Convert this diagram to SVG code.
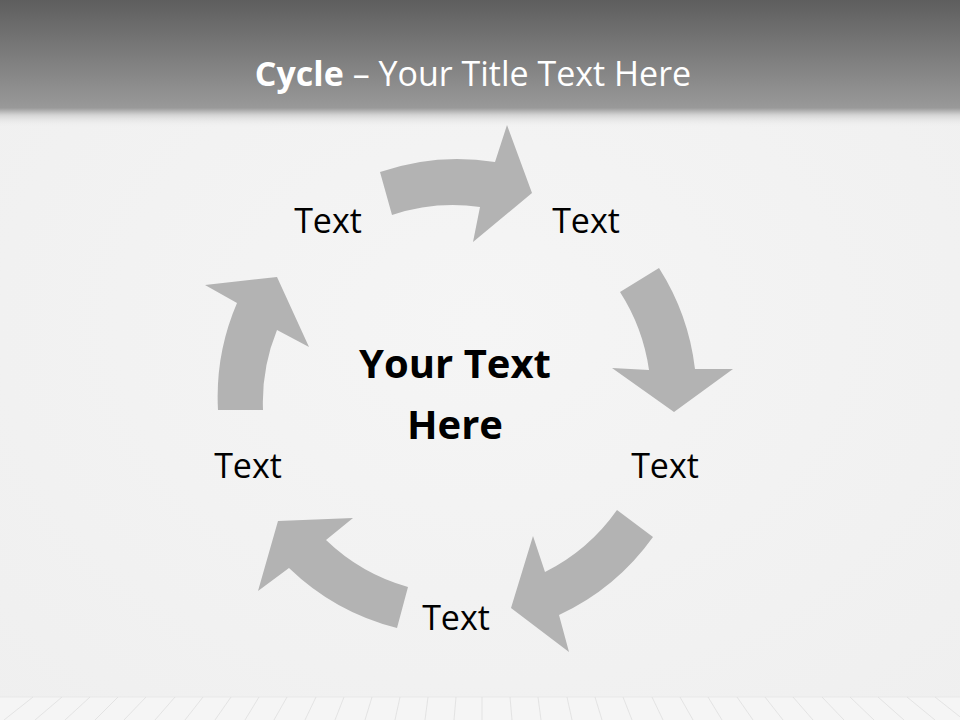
<svg xmlns="http://www.w3.org/2000/svg" width="960" height="720" viewBox="0 0 960 720">
<style>
.lbl{font-family:"Open Sans","Noto Sans","Liberation Sans",sans-serif;font-size:34px;fill:#000;text-anchor:middle}
.ctr{font-family:"Open Sans","Noto Sans","Liberation Sans",sans-serif;font-size:40px;font-weight:bold;fill:#000;text-anchor:middle}
.ttl{font-family:"Open Sans","Noto Sans","Liberation Sans",sans-serif;font-size:34px;fill:#fff;text-anchor:middle}
.arrow{fill:#b3b3b3}
.floor line{stroke:#dedede;stroke-width:0.8}
</style>
<defs>
<linearGradient id="hdr" x1="0" y1="0" x2="0" y2="1">
<stop offset="0" stop-color="#5e5e5e"/>
<stop offset="1" stop-color="#999999"/>
</linearGradient>
<linearGradient id="fade" x1="0" y1="0" x2="0" y2="1">
<stop offset="0" stop-color="#9a9a9a"/>
<stop offset="0.35" stop-color="#d4d4d4"/>
<stop offset="1" stop-color="#f3f3f3" stop-opacity="0"/>
</linearGradient>
<radialGradient id="wall" cx="0.5" cy="0.45" r="0.75">
<stop offset="0" stop-color="#f5f5f5"/>
<stop offset="1" stop-color="#efefef"/>
</radialGradient>
</defs>
<rect x="0" y="0" width="960" height="720" fill="url(#wall)"/>
<rect x="0" y="697" width="960" height="23" fill="#f5f5f5"/>
<g class="floor">
<line x1="0" y1="697" x2="960" y2="697" style="stroke:#e6e6e6"/>
<line x1="33" y1="697" x2="4" y2="720"/>
<line x1="62" y1="697" x2="35" y2="720"/>
<line x1="90" y1="697" x2="65" y2="720"/>
<line x1="118" y1="697" x2="95" y2="720"/>
<line x1="146" y1="697" x2="124" y2="720"/>
<line x1="175" y1="697" x2="155" y2="720"/>
<line x1="203" y1="697" x2="185" y2="720"/>
<line x1="231" y1="697" x2="215" y2="720"/>
<line x1="259" y1="697" x2="245" y2="720"/>
<line x1="287" y1="697" x2="274" y2="720"/>
<line x1="316" y1="697" x2="305" y2="720"/>
<line x1="344" y1="697" x2="335" y2="720"/>
<line x1="372" y1="697" x2="365" y2="720"/>
<line x1="400" y1="697" x2="395" y2="720"/>
<line x1="428" y1="697" x2="425" y2="720"/>
<line x1="456" y1="697" x2="454" y2="720"/>
<line x1="482" y1="697" x2="482" y2="720"/>
<line x1="510" y1="697" x2="512" y2="720"/>
<line x1="538" y1="697" x2="541" y2="720"/>
<line x1="567" y1="697" x2="572" y2="720"/>
<line x1="595" y1="697" x2="602" y2="720"/>
<line x1="623" y1="697" x2="632" y2="720"/>
<line x1="652" y1="697" x2="663" y2="720"/>
<line x1="680" y1="697" x2="693" y2="720"/>
<line x1="708" y1="697" x2="722" y2="720"/>
<line x1="737" y1="697" x2="753" y2="720"/>
<line x1="765" y1="697" x2="783" y2="720"/>
<line x1="793" y1="697" x2="813" y2="720"/>
<line x1="822" y1="697" x2="844" y2="720"/>
<line x1="850" y1="697" x2="874" y2="720"/>
<line x1="878" y1="697" x2="904" y2="720"/>
<line x1="907" y1="697" x2="935" y2="720"/>
<line x1="935" y1="697" x2="964" y2="720"/>
</g>
<rect x="0" y="0" width="960" height="108" fill="url(#hdr)"/>
<rect x="0" y="108" width="960" height="20" fill="url(#fade)"/>
<g id="title">
<text class="ttl" x="473" y="86"><tspan font-weight="bold">Cycle</tspan> – Your Title Text Here</text>
</g>
<g id="connectors">
<path class="arrow" d="M 380,172 A 238,238 0 0 1 495,162 L 507,125 L 532,193 L 473,242 L 480,207 A 193,193 0 0 0 392,215 Z"/>
<path class="arrow" d="M 659,268 A 240,240 0 0 1 695,369 L 733,369 L 674,412 L 612,368 L 649,370 A 195,195 0 0 0 620,292 Z"/>
<path class="arrow" d="M 653,537 A 240,240 0 0 1 559,615 L 569,652 L 511,608 L 533,536 L 545,572 A 195,195 0 0 0 617,510 Z"/>
<path class="arrow" d="M 397,628 A 239,239 0 0 1 289,568 L 258,591 L 278,521 L 353,518 L 326,540 A 194,194 0 0 0 408,587 Z"/>
<path class="arrow" d="M 218,410 A 238,238 0 0 1 237,303 L 205,285 L 277,277 L 309,347 L 277,330 A 192,192 0 0 0 263,410 Z"/>
</g>
<g id="node-top-left"><text class="lbl" x="328" y="233">Text</text></g>
<g id="node-top-right"><text class="lbl" x="586" y="233">Text</text></g>
<g id="node-right"><text class="lbl" x="665" y="478">Text</text></g>
<g id="node-bottom"><text class="lbl" x="456" y="630">Text</text></g>
<g id="node-left"><text class="lbl" x="248" y="478">Text</text></g>
<g id="node-center">
<text class="ctr" x="455" y="378">Your Text</text>
<text class="ctr" x="455" y="439">Here</text>
</g>
</svg>
